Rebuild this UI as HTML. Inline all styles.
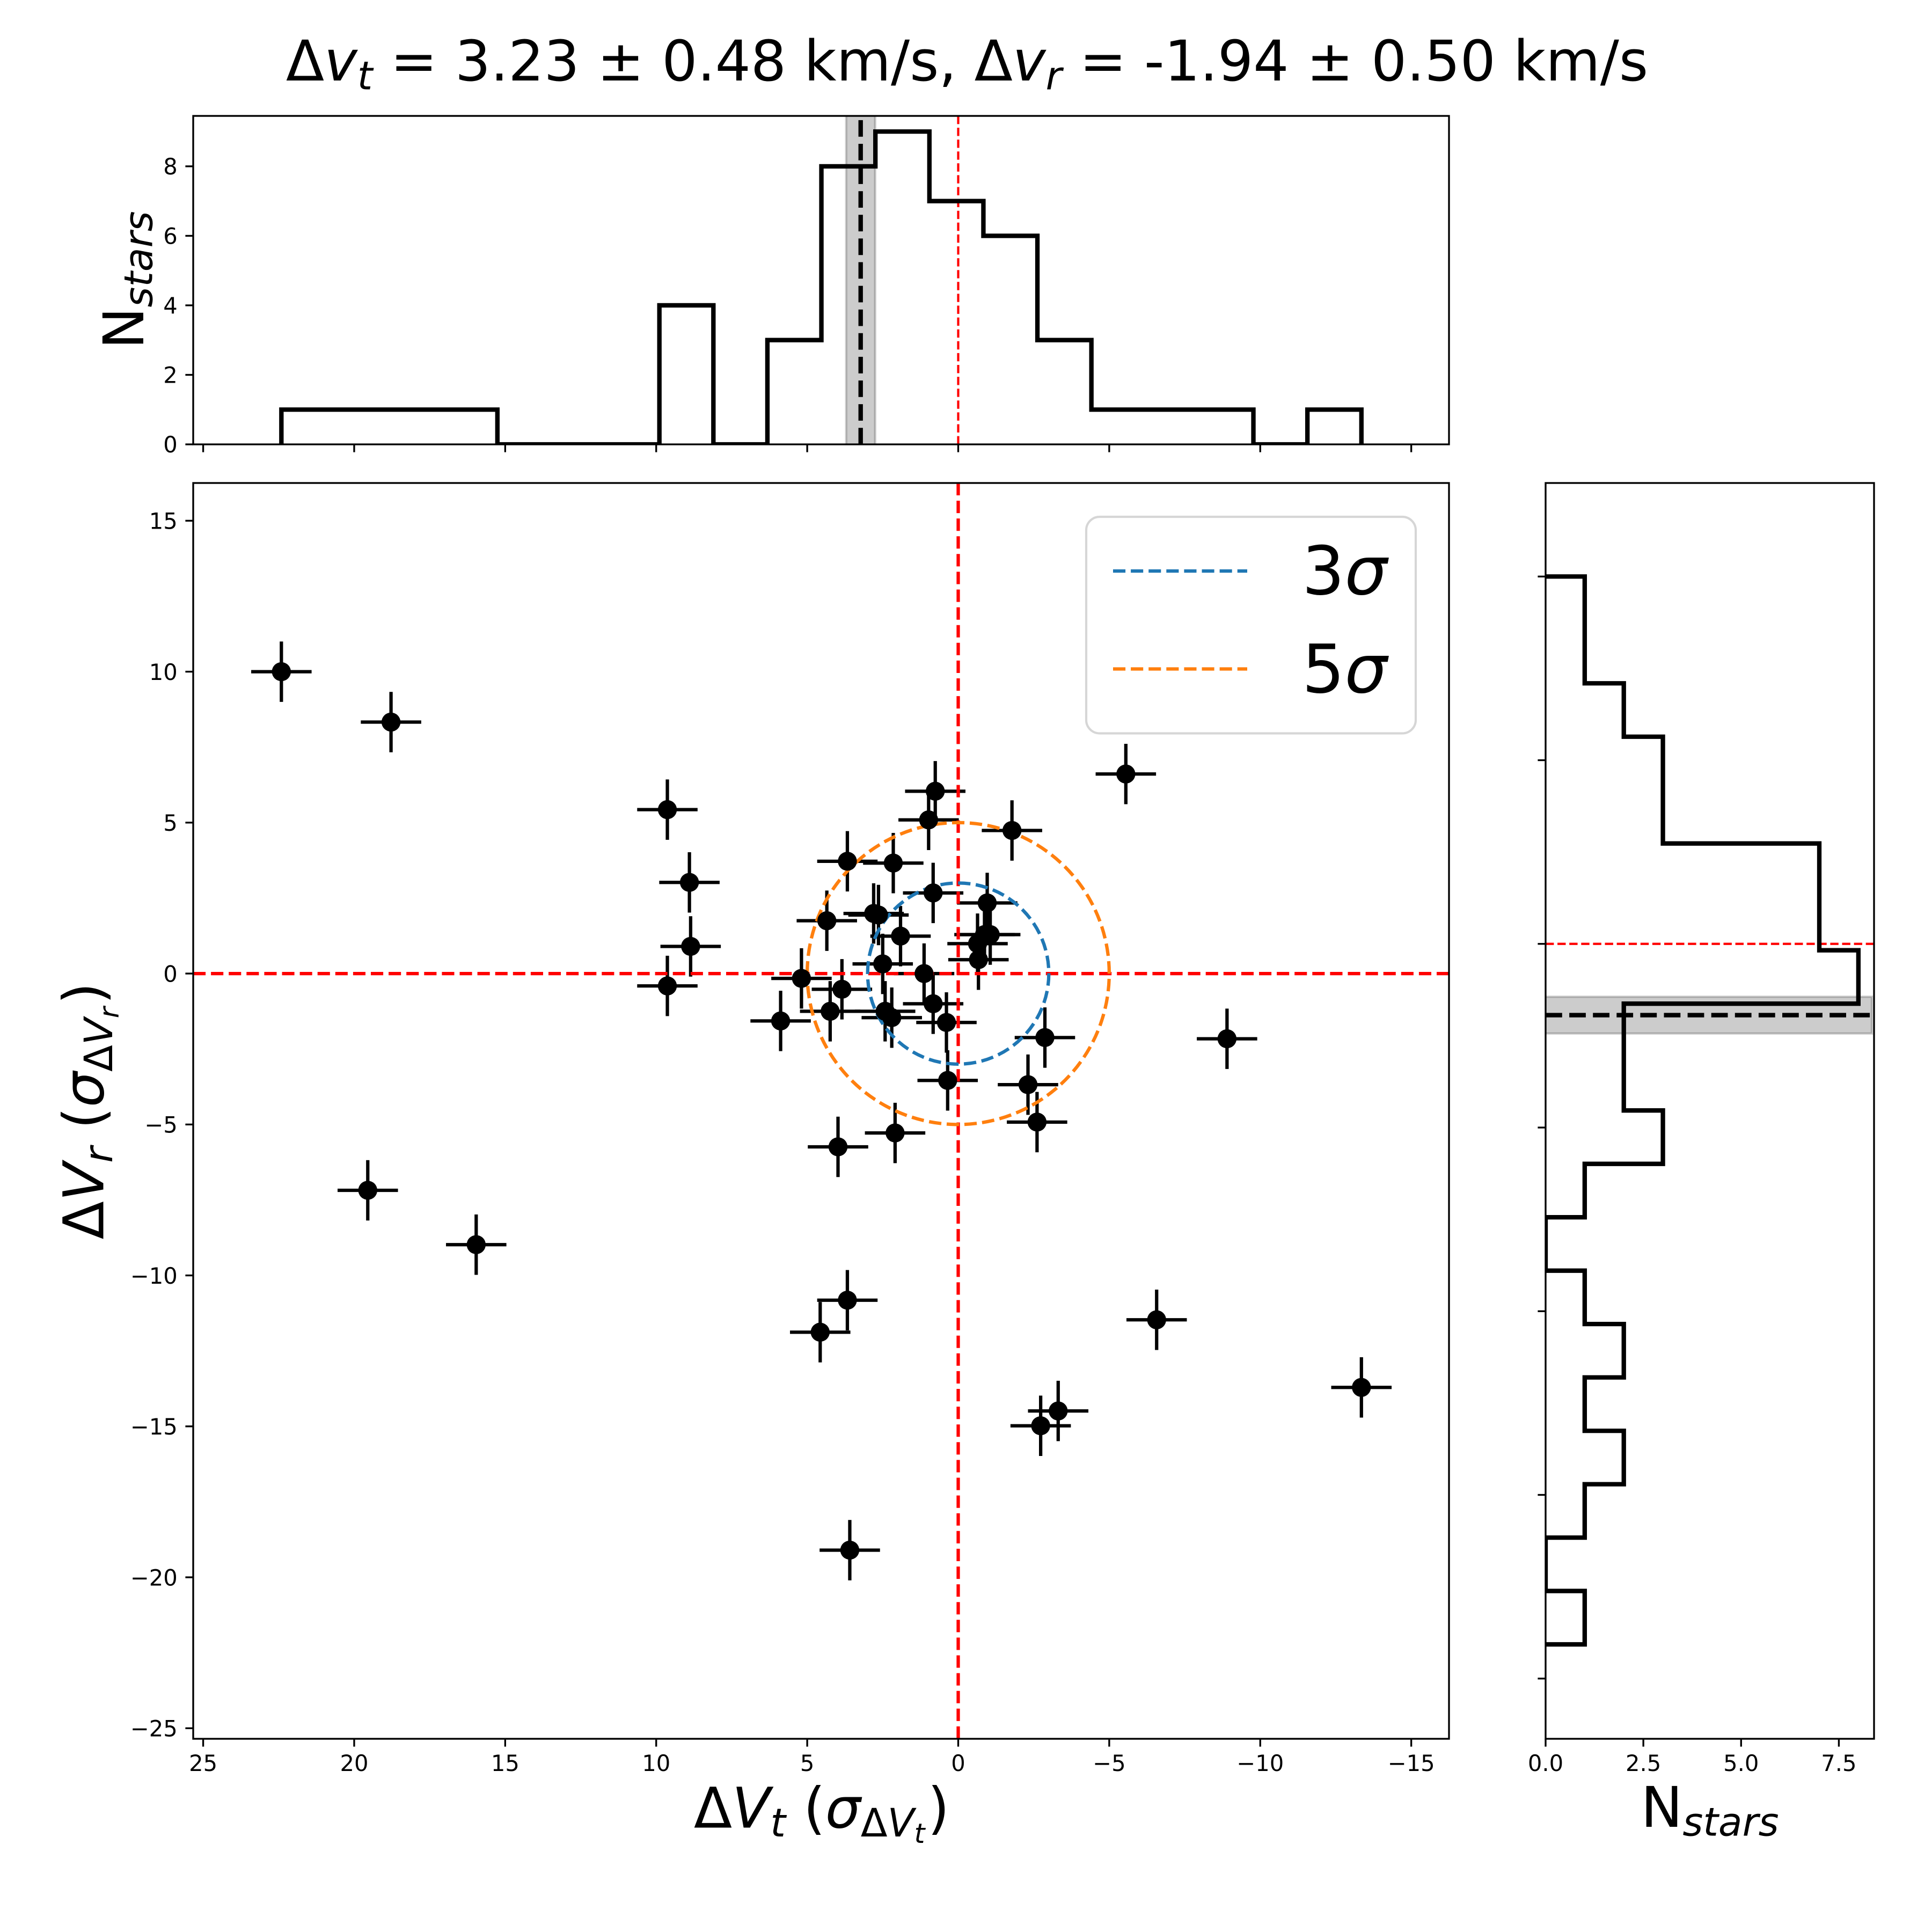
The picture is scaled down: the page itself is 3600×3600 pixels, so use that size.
<!DOCTYPE html>
<html lang="en">
<head>
<meta charset="utf-8">
<title>Relative velocity scatter chart</title>
<style>
  html, body { margin: 0; padding: 0; background: #fff; }
  svg { display: block; }
  text { font-family: "DejaVu Sans", "Liberation Sans", sans-serif; fill: #000; white-space: pre; }
  .i { font-style: italic; }
</style>
</head>
<body>
<svg id="chart" xmlns="http://www.w3.org/2000/svg" width="3600" height="3600" viewBox="0 0 3600 3600">
  <defs>
    <clipPath id="clip-main"><rect x="360" y="900" width="2340" height="2340"/></clipPath>
    <clipPath id="clip-top"><rect x="360" y="216" width="2340" height="612"/></clipPath>
    <clipPath id="clip-right"><rect x="2880" y="900" width="612" height="2340"/></clipPath>
  </defs>
  <rect x="0" y="0" width="3600" height="3600" fill="#fff"/>

  <text x="1802" y="150" font-size="104.17" text-anchor="middle">Δ<tspan class="i">v</tspan><tspan class="i" font-size="72.9" dy="16.5">t</tspan><tspan dy="-16.5"> = 3.23 ± 0.48 km/s, Δ</tspan><tspan class="i">v</tspan><tspan class="i" font-size="72.9" dy="16.5">r</tspan><tspan dy="-16.5"> = -1.94 ± 0.50 km/s</tspan></text>

  <g id="top-panel"></g>
  <g id="main-panel"></g>
  <g id="right-panel"></g>

  <g>
    <rect x="2024" y="963" width="614" height="403.5" rx="25" ry="25" fill="#fff" fill-opacity="0.8" stroke="#d6d6d6" stroke-width="4.17"/>
    <line x1="2074" y1="1064" x2="2324" y2="1064" stroke="#1f77b4" stroke-width="6.25" stroke-dasharray="23.1 10"/>
    <text x="2426" y="1107" font-size="125">3<tspan class="i">σ</tspan></text>
    <line x1="2074" y1="1246.5" x2="2324" y2="1246.5" stroke="#ff7f0e" stroke-width="6.25" stroke-dasharray="23.1 10"/>
    <text x="2426" y="1290" font-size="125">5<tspan class="i">σ</tspan></text>
  </g>

  <text x="1531" y="3405.5" font-size="104.17" text-anchor="middle">Δ<tspan class="i">V</tspan><tspan class="i" font-size="72.9" dy="16.5">t</tspan><tspan dy="-16.5"> (</tspan><tspan class="i">σ</tspan><tspan font-size="72.9" dy="16.5">Δ</tspan><tspan class="i" font-size="72.9">V</tspan><tspan class="i" font-size="51" dy="12">t</tspan><tspan dy="-28.5" dx="5">)</tspan></text>

  <text transform="translate(192.3,2070) rotate(-90)" x="0" y="0" font-size="104.17" text-anchor="middle">Δ<tspan class="i">V</tspan><tspan class="i" font-size="72.9" dy="16.5">r</tspan><tspan dy="-16.5"> (</tspan><tspan class="i">σ</tspan><tspan font-size="72.9" dy="16.5">Δ</tspan><tspan class="i" font-size="72.9">V</tspan><tspan class="i" font-size="51" dy="12">r</tspan><tspan dy="-28.5" dx="5">)</tspan></text>

  <text transform="translate(267,522) rotate(-90)" x="0" y="0" font-size="104.17" text-anchor="middle">N<tspan class="i" font-size="72.9" dy="16.5">stars</tspan></text>

  <text x="3186" y="3404" font-size="104.17" text-anchor="middle">N<tspan class="i" font-size="72.9" dy="16.5">stars</tspan></text>
</svg>

<script>
// ---- Star measurements (sigma units) ----
const starDvt = [22.41, 18.78, 9.63, 8.90, 8.86, 9.63, 19.55, 15.96, -5.55, -8.90, 3.67, 4.57, -6.57, -3.31, -2.73, -13.35, 3.59,
  0.76, 0.98, -1.78, 3.67, 2.15, 0.83, -0.96, 2.80, 2.64, 4.35, 1.91, -1.06, -0.87, -0.64, -0.67, 2.50, 1.13, 5.19, 3.85, 0.83, 4.24, 2.42, 2.20, 5.88, 0.39, -2.87, 0.35, -2.31, -2.61, 2.09, 3.98];
const starDvr = [10.00, 8.33, 5.43, 3.02, 0.90, -0.41, -7.18, -8.98, 6.61, -2.16, -10.82, -11.88, -11.47, -14.49, -14.98, -13.71, -19.10,
  6.04, 5.09, 4.74, 3.72, 3.66, 2.67, 2.34, 1.99, 1.94, 1.75, 1.24, 1.29, 1.29, 0.99, 0.46, 0.32, 0.00, -0.16, -0.52, -1.00, -1.25, -1.25, -1.46, -1.57, -1.62, -2.12, -3.54, -3.68, -4.92, -5.28, -5.74];
const starErrorT = 1;
const starErrorR = 1;

// ---- Sigma reference circles ----
const sigmaRadii = [3, 5];
const sigmaColors = ['#1f77b4', '#ff7f0e'];

// ---- Histogram of the tangential offset (km/s, bins run high to low) ----
const histTCounts = [1, 1, 1, 1, 0, 0, 0, 4, 0, 3, 8, 9, 7, 6, 3, 1, 1, 1, 0, 1];
const histTRange = [22.41, -13.35];
const medianT = 3.23;
const medianTError = 0.48;

// ---- Histogram of the radial offset (km/s, bins run high to low) ----
const histRCounts = [1, 1, 2, 3, 3, 7, 7, 8, 2, 2, 3, 1, 0, 1, 2, 1, 2, 1, 0, 1];
const histRRange = [10.0, -19.07];
const medianR = -1.94;
const medianRError = 0.50;

// ---- Axis ticks and limits ----
const mainXTicks = [25, 20, 15, 10, 5, 0, -5, -10, -15];
const mainYTicks = [15, 10, 5, 0, -5, -10, -15, -20, -25];
const topYTicks = [0, 2, 4, 6, 8];
const rightXTicks = [0, 2.5, 5, 7.5];
const rightYTicks = [10, 5, 0, -5, -10, -15, -20];
const mainXLim = [25.33, -16.25];
const mainYLim = [-25.35, 16.25];
const topYLim = [0, 9.45];
const rightXLim = [0, 8.4];
const rightYLim = [-21.64, 12.546];

const NS = 'http://www.w3.org/2000/svg';
const mainBox = { l: 360, r: 2700, t: 900, b: 3240 };
const topBox = { l: 360, r: 2700, t: 216, b: 828 };
const rightBox = { l: 2880, r: 3492, t: 900, b: 3240 };

function scale(domain, a, b) {
  return function (v) { return a + (v - domain[0]) / (domain[1] - domain[0]) * (b - a); };
}
const xMain = scale(mainXLim, mainBox.l, mainBox.r);
const yMain = scale(mainYLim, mainBox.b, mainBox.t);
const xTop = xMain;
const yTop = scale(topYLim, topBox.b, topBox.t);
const xRight = scale(rightXLim, rightBox.l, rightBox.r);
const yRight = scale(rightYLim, rightBox.b, rightBox.t);

function make(parent, tag, attrs) {
  const el = document.createElementNS(NS, tag);
  for (const k in attrs) el.setAttribute(k, attrs[k]);
  parent.appendChild(el);
  return el;
}
function fmt(v) { return String(v).replace('-', '\u2212'); }

function addLine(parent, x1, y1, x2, y2, stroke, width, dash, name) {
  const el = make(parent, 'line', { x1: x1, y1: y1, x2: x2, y2: y2, stroke: stroke, 'stroke-width': width });
  if (dash) el.setAttribute('stroke-dasharray', dash);
  
  
  return el;
}
function addFrame(parent, box, name) {
  const el = make(parent, 'rect', { x: box.l, y: box.t, width: box.r - box.l, height: box.b - box.t, fill: 'none', stroke: '#000', 'stroke-width': 3.33 });
  
  
}
function addXTick(parent, x, yBase, label, name) {
  addLine(parent, x, yBase, x, yBase + 14.6, '#000', 3.33, null, name + '-tick');
  if (label !== null) {
    const t = make(parent, 'text', { x: x, y: yBase + 60, 'font-size': 41.67, 'text-anchor': 'middle' });
    t.textContent = label;
    
    
  }
}
function addYTick(parent, xBase, y, label, name) {
  addLine(parent, xBase - 14.6, y, xBase, y, '#000', 3.33, null, name + '-tick');
  if (label !== null) {
    const t = make(parent, 'text', { x: xBase - 29.2, y: y + 15.2, 'font-size': 41.67, 'text-anchor': 'end' });
    t.textContent = label;
    
    
  }
}

// ---------- Main scatter panel ----------
const mainPanel = document.getElementById('main-panel');
const mainClip = make(mainPanel, 'g', { 'clip-path': 'url(#clip-main)' });

starDvt.forEach(function (v, i) {
  const r = starDvr[i];
  addLine(mainClip, xMain(v - starErrorT), yMain(r), xMain(v + starErrorT), yMain(r), '#000', 6.25, null, 'star-x-error-bar');
  addLine(mainClip, xMain(v), yMain(r - starErrorR), xMain(v), yMain(r + starErrorR), '#000', 6.25, null, 'star-y-error-bar');
});

addLine(mainClip, xMain(0), mainBox.b, xMain(0), mainBox.t, '#ff0000', 6.25, '23.1 10', 'zero-vertical-line');
addLine(mainClip, mainBox.l, yMain(0), mainBox.r, yMain(0), '#ff0000', 6.25, '23.1 10', 'zero-horizontal-line');

sigmaRadii.forEach(function (radius, i) {
  const xa = xMain(radius), xb = xMain(-radius), y0 = yMain(0);
  const rx = Math.abs(xb - xa) / 2, ry = Math.abs(yMain(radius) - y0);
  const ring = make(mainClip, 'path', {
    d: 'M' + xa + ' ' + y0 + ' A' + rx + ' ' + ry + ' 0 1 1 ' + xb + ' ' + y0 + ' A' + rx + ' ' + ry + ' 0 1 1 ' + xa + ' ' + y0,
    fill: 'none', stroke: sigmaColors[i], 'stroke-width': 6.25, 'stroke-dasharray': '23.1 10'
  });
  
  
});

starDvt.forEach(function (v, i) {
  const dot = make(mainClip, 'circle', { cx: xMain(v), cy: yMain(starDvr[i]), r: 17.7, fill: '#000' });
  
  
});

mainXTicks.forEach(function (v) { addXTick(mainPanel, xMain(v), mainBox.b, fmt(v), 'main-x'); });
mainYTicks.forEach(function (v) { addYTick(mainPanel, mainBox.l, yMain(v), fmt(v), 'main-y'); });
addFrame(mainPanel, mainBox, 'scatter-frame');

// ---------- Top histogram ----------
const topPanel = document.getElementById('top-panel');
const topClip = make(topPanel, 'g', { 'clip-path': 'url(#clip-top)' });

const topBand = make(topClip, 'rect', {
  x: xTop(medianT + medianTError), y: topBox.t - 10,
  width: xTop(medianT - medianTError) - xTop(medianT + medianTError), height: topBox.b - topBox.t + 20,
  fill: '#000', 'fill-opacity': 0.2, stroke: '#000', 'stroke-opacity': 0.2, 'stroke-width': 4.17
});



addLine(topClip, xTop(0), topBox.b, xTop(0), topBox.t, '#ff0000', 4.17, '15.4 6.7', 'top-zero-line');

(function () {
  const step = (histTRange[1] - histTRange[0]) / histTCounts.length;
  let d = 'M' + xTop(histTRange[0]) + ' ' + yTop(0);
  histTCounts.forEach(function (c, i) {
    d += ' L' + xTop(histTRange[0] + i * step) + ' ' + yTop(c);
    d += ' L' + xTop(histTRange[0] + (i + 1) * step) + ' ' + yTop(c);
  });
  d += ' L' + xTop(histTRange[1]) + ' ' + yTop(0);
  const h = make(topClip, 'path', { d: d, fill: 'none', stroke: '#000', 'stroke-width': 8.33, 'stroke-linejoin': 'miter' });
  
  
})();

addLine(topClip, xTop(medianT), topBox.b, xTop(medianT), topBox.t, '#000', 8.33, '30.8 13.3', 'tangential-median-line');
mainXTicks.forEach(function (v) { addXTick(topPanel, xTop(v), topBox.b, null, 'top-x'); });
topYTicks.forEach(function (v) { addYTick(topPanel, topBox.l, yTop(v), fmt(v), 'top-y'); });
addFrame(topPanel, topBox, 'top-histogram-frame');

// ---------- Right histogram ----------
const rightPanel = document.getElementById('right-panel');
const rightClip = make(rightPanel, 'g', { 'clip-path': 'url(#clip-right)' });

const rightBand = make(rightClip, 'rect', {
  x: rightBox.l - 10, y: yRight(medianR + medianRError),
  width: rightBox.r - rightBox.l + 6, height: yRight(medianR - medianRError) - yRight(medianR + medianRError),
  fill: '#000', 'fill-opacity': 0.2, stroke: '#000', 'stroke-opacity': 0.2, 'stroke-width': 4.17
});



addLine(rightClip, rightBox.l, yRight(0), rightBox.r, yRight(0), '#ff0000', 4.17, '15.4 6.7', 'right-zero-line');

(function () {
  const step = (histRRange[1] - histRRange[0]) / histRCounts.length;
  let d = 'M' + xRight(0) + ' ' + yRight(histRRange[0]);
  histRCounts.forEach(function (c, i) {
    d += ' L' + xRight(c) + ' ' + yRight(histRRange[0] + i * step);
    d += ' L' + xRight(c) + ' ' + yRight(histRRange[0] + (i + 1) * step);
  });
  d += ' L' + xRight(0) + ' ' + yRight(histRRange[1]);
  const h = make(rightClip, 'path', { d: d, fill: 'none', stroke: '#000', 'stroke-width': 8.33, 'stroke-linejoin': 'miter' });
  
  
})();

addLine(rightClip, rightBox.l, yRight(medianR), rightBox.r, yRight(medianR), '#000', 8.33, '30.8 13.3', 'radial-median-line');
rightXTicks.forEach(function (v) { addXTick(rightPanel, xRight(v), rightBox.b, v.toFixed(1), 'right-x'); });
rightYTicks.forEach(function (v) { addYTick(rightPanel, rightBox.l, yRight(v), null, 'right-y'); });
addFrame(rightPanel, rightBox, 'right-histogram-frame');
</script>
</body>
</html>
